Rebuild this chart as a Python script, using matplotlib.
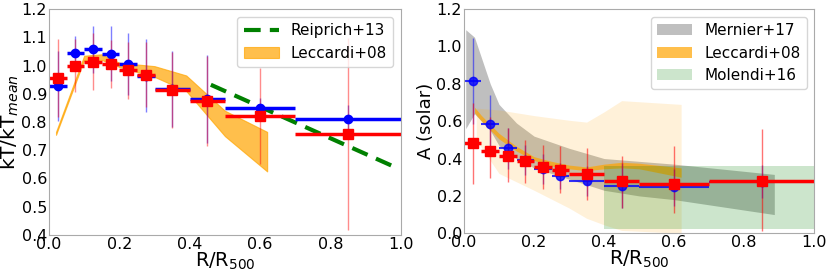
import matplotlib
matplotlib.use("Agg")
import matplotlib.pyplot as plt
import numpy as np

# radial bins (R/R500)
r_edges = [0.0, 0.05, 0.1, 0.15, 0.2, 0.25, 0.3, 0.4, 0.5, 0.7, 1.0]

# temperature profile
kt_blue = [0.928, 1.044, 1.058, 1.042, 1.006, 0.964, 0.916, 0.881, 0.849, 0.811]
kt_blue_err = [0.125, 0.06, 0.083, 0.097, 0.11, 0.13, 0.135, 0.155, 0.035, 0.05]
kt_red = [0.957, 1.0, 1.014, 1.005, 0.983, 0.968, 0.914, 0.875, 0.823, 0.757]
kt_red_err = [0.138, 0.094, 0.1, 0.085, 0.1, 0.115, 0.135, 0.16, 0.17, 0.34]

# abundance profile
ab_blue = [0.816, 0.586, 0.455, 0.393, 0.345, 0.307, 0.282, 0.255, 0.246, 0.277]
ab_blue_err = [0.23, 0.155, 0.11, 0.08, 0.08, 0.07, 0.08, 0.12, 0.1, 0.09]
ab_red = [0.482, 0.443, 0.411, 0.388, 0.357, 0.339, 0.316, 0.28, 0.263, 0.28]
ab_red_lo = [0.22, 0.148, 0.134, 0.118, 0.121, 0.125, 0.136, 0.146, 0.156, 0.27]
ab_red_hi = [0.214, 0.182, 0.151, 0.112, 0.116, 0.129, 0.143, 0.134, 0.205, 0.277]

# literature: left panel
lecc_t_x = [0.02, 0.1, 0.15, 0.2, 0.3, 0.39, 0.5, 0.62]
lecc_t_lo = [0.755, 1.02, 1.02, 0.995, 0.96, 0.91, 0.75, 0.625]
lecc_t_hi = [0.765, 1.035, 1.04, 1.01, 0.998, 0.965, 0.84, 0.765]
reip_x = [0.46, 0.98]
reip_y = [0.932, 0.642]

# literature: right panel
mern_x = [0.005, 0.03, 0.075, 0.1, 0.15, 0.2, 0.3, 0.4, 0.5, 0.6, 0.886]
mern_lo = [0.56, 0.64, 0.55, 0.47, 0.40, 0.35, 0.29, 0.23, 0.20, 0.18, 0.10]
mern_hi = [1.09, 1.05, 0.80, 0.69, 0.59, 0.52, 0.455, 0.40, 0.385, 0.37, 0.315]

lecc_a_x = [0.03, 0.05, 0.1, 0.15, 0.2, 0.25, 0.3, 0.35, 0.4, 0.45, 0.5, 0.62]
lecc_a_lo = [0.645, 0.6, 0.505, 0.44, 0.39, 0.36, 0.345, 0.335, 0.345, 0.35, 0.345, 0.30]
lecc_a_hi = [0.675, 0.63, 0.535, 0.465, 0.41, 0.385, 0.365, 0.355, 0.37, 0.38, 0.375, 0.35]

lecc_wide_x = [0.035, 0.1, 0.2, 0.3, 0.35, 0.4, 0.45, 0.62]
lecc_wide_lo = [0.50, 0.32, 0.23, 0.135, 0.08, 0.045, 0.015, 0.0]
lecc_wide_hi = [0.67, 0.66, 0.63, 0.605, 0.595, 0.65, 0.71, 0.69]

mol_x = [0.4, 1.0]
mol_lo = [0.02, 0.02]
mol_hi = [0.36, 0.36]

edges = np.array(r_edges)
r_mid = (edges[1:] + edges[:-1]) / 2
r_half = (edges[1:] - edges[:-1]) / 2

plt.rcParams['font.family'] = 'DejaVu Sans'
fig = plt.figure(figsize=(8.3, 2.77), dpi=100)
ax1 = fig.add_axes([0.059, 0.152, 0.424, 0.815])
ax2 = fig.add_axes([0.559, 0.158, 0.422, 0.809])

# ---- left: temperature
ax1.fill_between(lecc_t_x, lecc_t_lo, lecc_t_hi, color='orange', alpha=0.7, lw=0.8,
                 label='Leccardi+08')
ax1.plot(reip_x, reip_y, '--', color='green', lw=3, dashes=(4, 2.2), label='Reiprich+13')

ax1.errorbar(r_mid, kt_blue, xerr=r_half, fmt='o', color='blue', ms=6, lw=2.5, capsize=0)
ax1.errorbar(r_mid, kt_blue, yerr=kt_blue_err, fmt='none', ecolor='blue', lw=1, alpha=0.5)
ax1.errorbar(r_mid, kt_red, xerr=r_half, fmt='s', color='red', ms=7, lw=2.5, capsize=0)
ax1.errorbar(r_mid, kt_red, yerr=kt_red_err, fmt='none', ecolor='red', lw=1, alpha=0.45)

ax1.set_xlim(0, 1)
ax1.set_ylim(0.4, 1.2)
ax1.set_yticks(np.arange(0.4, 1.21, 0.1))
ax1.set_xlabel(r'R/R$_{500}$', fontsize=14, labelpad=-1)
ax1.set_ylabel(r'kT/kT$_{mean}$', fontsize=14.5, labelpad=0)
h, l = ax1.get_legend_handles_labels()
ax1.legend([h[1], h[0]], [l[1], l[0]], loc='upper right', fontsize=11, handlelength=2.3)

# ---- right: abundance
ax2.fill_between(mern_x, mern_lo, mern_hi, color='gray', alpha=0.5, lw=0, label='Mernier+17')
ax2.fill_between(lecc_a_x, lecc_a_lo, lecc_a_hi, color='orange', alpha=0.7, lw=0,
                 label='Leccardi+08')
ax2.fill_between(lecc_wide_x, lecc_wide_lo, lecc_wide_hi, color='orange', alpha=0.15, lw=0)
ax2.fill_between(mol_x, mol_lo, mol_hi, color='green', alpha=0.2, lw=0, label='Molendi+16')

ax2.errorbar(r_mid, ab_blue, xerr=r_half, fmt='o', color='blue', ms=6, lw=1.5, alpha=0.8,
             capsize=0)
ax2.errorbar(r_mid, ab_blue, yerr=ab_blue_err, fmt='none', ecolor='blue', lw=1, alpha=0.5)
ax2.errorbar(r_mid, ab_red, xerr=r_half, fmt='s', color='red', ms=7, lw=2.5, capsize=0)
ax2.errorbar(r_mid, ab_red, yerr=[ab_red_lo, ab_red_hi], fmt='none', ecolor='red', lw=1,
             alpha=0.55)

ax2.set_xlim(0, 1)
ax2.set_ylim(0, 1.2)
ax2.set_yticks(np.arange(0, 1.21, 0.2))
ax2.set_xlabel(r'R/R$_{500}$', fontsize=14, labelpad=-1)
ax2.set_ylabel('A (solar)', fontsize=13, labelpad=1)
ax2.legend(loc='upper right', fontsize=11, handlelength=2.3)

for ax in (ax1, ax2):
    for s in ax.spines.values():
        s.set_color('#aaaaaa')
    ax.tick_params(length=0, labelsize=11.5, pad=1.5)

fig.savefig('out.png', dpi=100)
